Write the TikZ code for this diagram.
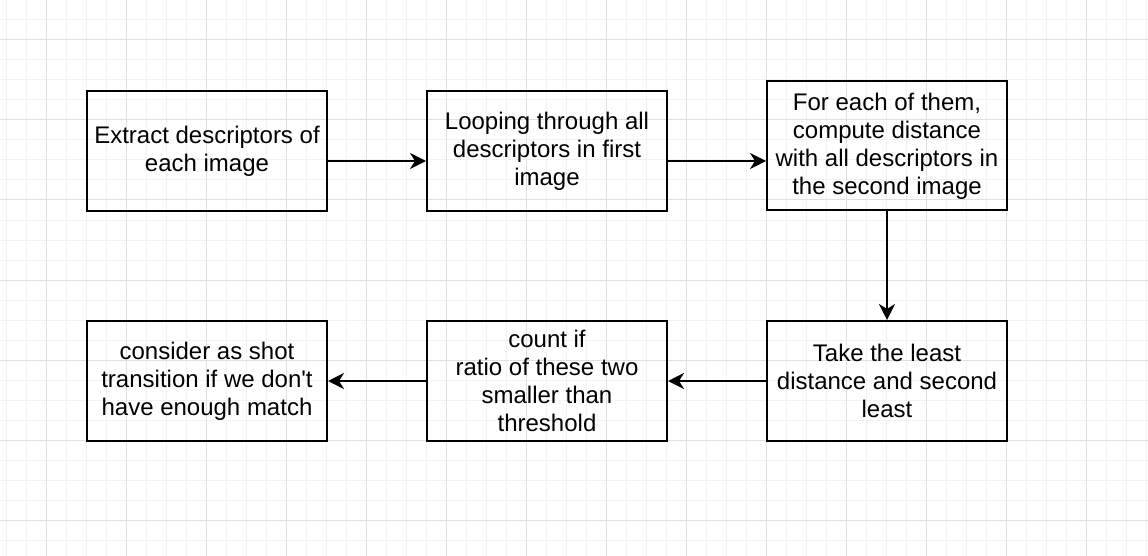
\documentclass[tikz,border=0pt]{standalone}
\usepackage{fontspec}
\setmainfont{Liberation Sans}[Ligatures=TeXOff]
\usetikzlibrary{arrows.meta}
\definecolor{gridminor}{HTML}{F2F2F2}
\definecolor{gridmajor}{HTML}{E0E0E0}
\tikzset{
  stepbox/.style={draw, line width=2pt, minimum width=240pt, minimum height=120pt,
    align=center, inner sep=0pt, font=\fontsize{24}{28}\selectfont},
  flow/.style={line width=2pt, -{Stealth[length=16pt,width=16pt,inset=5pt]}},
}
\begin{document}
\begin{tikzpicture}[x=1pt,y=-1pt]
      \useasboundingbox[fill=white] (0,0) rectangle (1148,556);
      % grid
      \foreach \x in {6.5,26.5,...,1148} \draw[gridminor,line width=1pt] (\x,0) -- (\x,556);
      \foreach \y in {0,20,...,556} \draw[gridminor,line width=1pt] (0,\y) -- (1148,\y);
      \foreach \x in {46.5,126.5,...,1148} \draw[gridmajor,line width=1pt] (\x,0) -- (\x,556);
      \foreach \y in {40,120,...,556} \draw[gridmajor,line width=1pt] (0,\y) -- (1148,\y);
      \draw
        (207,151) node[stepbox] (extract){Extract descriptors of\\each image}
        (547,151) node[stepbox] (loop){Looping through all\\descriptors in first\\image}
        (887,146) node[stepbox,minimum height=129pt] (dist){For each of them,\\compute distance\\with all descriptors in\\the second image}
        (887,381) node[stepbox] (least){Take the least\\distance and second\\least}
        (547,381) node[stepbox] (ratio){count if\\ratio of these two\\smaller than\\threshold}
        (207,381) node[stepbox] (shot){consider as shot\\transition if we don't\\have enough match};
      \begin{scope}[flow]
        \draw ([yshift=-10pt]extract.east) to ([yshift=-10pt]loop.west);
        \draw ([yshift=-10pt]loop.east) to ([yshift=-10pt]loop.east -| dist.west);
        \draw (dist) to (least);
        \draw (least) to (ratio);
        \draw (ratio) to (shot);
      \end{scope}
    \end{tikzpicture}
\end{document}
